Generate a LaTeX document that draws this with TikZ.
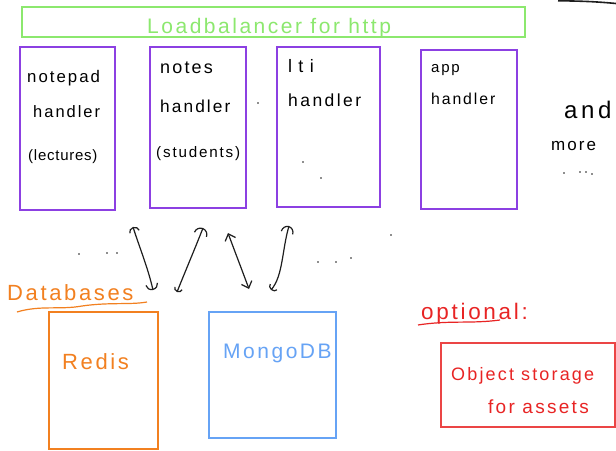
\documentclass[tikz,border=0pt]{standalone}
\usepackage{fontspec}
\setmainfont{Liberation Sans}
\usetikzlibrary{arrows.meta}
\definecolor{lbgreen}{RGB}{140,232,110}
\definecolor{hpurple}{RGB}{140,64,226}
\definecolor{dborange}{RGB}{242,128,32}
\definecolor{dbblue}{RGB}{102,163,245}
\definecolor{optred}{RGB}{232,36,36}
\definecolor{inkblack}{RGB}{30,30,30}
\newcommand{\hw}[2]{\fontsize{#1}{#1}\selectfont\addfontfeature{LetterSpace=#2}}
\begin{document}
\begin{tikzpicture}[x=1pt,y=-1pt,
  box/.style={draw, line width=1.4pt, inner sep=0pt},
  hand/.style={anchor=base west, inner sep=0pt},
  dotmark/.style={circle, fill=inkblack, inner sep=0pt, minimum size=1.6pt},
  link/.style={line width=1.2pt, draw=inkblack}
]
\useasboundingbox[fill=white] (0,0) rectangle (616,450);

% load balancer
\node[box, draw=lbgreen, minimum width=503pt, minimum height=30pt] (lb) at (273.5,22) {};
\node[hand, text=lbgreen] (lbtext) at (147,33) {\hw{21}{12}Loadbalancer for http};

% handlers
\node[box, draw=hpurple, minimum width=95pt, minimum height=163pt] (notepad) at (67.5,128.5) {};
\node[box, draw=hpurple, minimum width=96pt, minimum height=161pt] (notes) at (198,127.5) {};
\node[box, draw=hpurple, minimum width=103pt, minimum height=160pt] (lti) at (328.5,127) {};
\node[box, draw=hpurple, minimum width=96pt, minimum height=159pt] (app) at (469,129.5) {};

\node[hand] (np1) at (27,82) {\hw{16.8}{12}notepad};
\node[hand] (np2) at (33,117) {\hw{16.5}{12}handler};
\node[hand] (np3) at (28,160) {\hw{15}{5}(lectures)};

\node[hand] (ns1) at (160,73) {\hw{18}{12}notes};
\node[hand] (ns2) at (160,112) {\hw{17.3}{12}handler};
\node[hand] (ns3) at (156,157) {\hw{15.2}{12}(students)};

\node[hand] (lt1) at (288,72) {\hw{18}{35}lti};
\node[hand] (lt2) at (288,106) {\hw{17.5}{14}handler};

\node[hand] (ap1) at (431,72) {\hw{15}{12}app};
\node[hand] (ap2) at (431,104) {\hw{15.8}{12}handler};

\node[hand] (and) at (564,118) {\hw{24}{15}and};
\node[hand] (more) at (551,150) {\hw{17}{12}more};

% databases
\node[hand, text=dborange] (dbtitle) at (7,300) {\hw{22}{12}Databases};
\draw[dborange, line width=1.2pt] (17,312) .. controls (40,305) and (60,310) .. (82,306)
  .. controls (110,302) and (130,305) .. (147,302);
\node[box, draw=dborange, minimum width=109pt, minimum height=137pt] (redis) at (103.5,380.5) {};
\node[hand, text=dborange] (redistext) at (62,369) {\hw{22}{12}Redis};
\node[box, draw=dbblue, minimum width=127pt, minimum height=126pt] (mongo) at (272.5,375) {};
\node[hand, text=dbblue] (mongotext) at (223,358) {\hw{21}{12}MongoDB};

% optional
\node[hand, text=optred] (opt) at (421,319) {\hw{22.5}{12}optional:};
\draw[optred, line width=1.2pt] (418,325) .. controls (450,320) and (470,324) .. (500,320);
\node[box, draw=optred!85, line width=1.2pt, minimum width=174pt, minimum height=84pt] (obj) at (528,385) {};
\node[hand, text=optred] (obj1) at (451,380) {\hw{18}{12}Object storage};
\node[hand, text=optred] (obj2) at (488,413) {\hw{19}{12}for assets};

% arrows between handlers and databases
\coordinate (a1t) at (133,227);
\coordinate (a1b) at (153,290);
\coordinate (a2b) at (177,292);
\coordinate (a2t) at (203,228);
\coordinate (a3t) at (228,233);
\coordinate (a3b) at (249,289);
\coordinate (a4b) at (271,290);
\coordinate (a4t) at (289,226);
\draw[link, {Arc Barb[length=5pt,width=11pt]}-{Arc Barb[length=6pt,width=13pt]}]
  (a1t) .. controls (139,246) and (148,268) .. (a1b);
\draw[link, {Arc Barb[length=4pt,width=9pt]}-{Arc Barb[length=7pt,width=14pt]}]
  (a2b) .. controls (185,272) and (196,246) .. (a2t);
\draw[link, {Straight Barb[length=6pt,width=11pt]}-{Straight Barb[length=6pt,width=11pt]}]
  (a3t) .. controls (235,252) and (242,270) .. (a3b);
\draw[link, {Arc Barb[length=4pt,width=10pt]}-{Arc Barb[length=7pt,width=13pt]}]
  (a4b) .. controls (283,276) and (282,250) .. (a4t);

% stray dots
\node[dotmark] (d1) at (79,254) {};
\node[dotmark] (d2) at (107,253) {};
\node[dotmark] (d3) at (117,253) {};
\node[dotmark] (d4) at (318,262) {};
\node[dotmark] (d5) at (336,262) {};
\node[dotmark] (d6) at (351,258) {};
\node[dotmark] (d7) at (391,235) {};
\node[dotmark] (d8) at (258,103) {};
\node[dotmark] (d9) at (303,162) {};
\node[dotmark] (d10) at (321,178) {};
\node[dotmark] (d11) at (564,173) {};
\node[dotmark] (d12) at (580,172) {};
\node[dotmark] (d13) at (586,172) {};
\node[dotmark] (d14) at (592,174) {};

% stroke at top right
\draw[inkblack, line width=1.6pt] (558,0.8) .. controls (585,1) and (600,2) .. (616,3.5);
\end{tikzpicture}
\end{document}
